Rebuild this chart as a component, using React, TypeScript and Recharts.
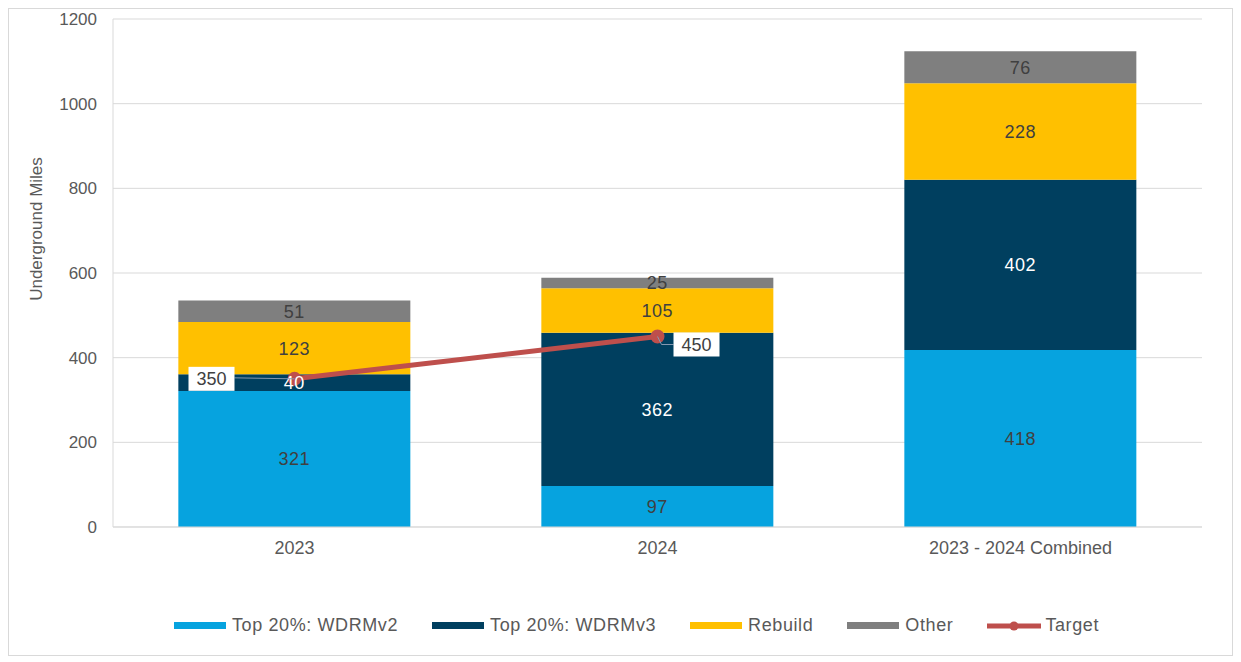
import React from 'react';
import { ComposedChart, Bar, Line, XAxis, YAxis, CartesianGrid, Legend, LabelList } from 'recharts';

const categories = ['2023', '2024', '2023 - 2024 Combined'];
const wdrmV2 = [321, 97, 418];
const wdrmV3 = [40, 362, 402];
const rebuild = [123, 105, 228];
const other = [51, 25, 76];
const target: (number | null)[] = [350, 450, null];
const yTicks = [0, 200, 400, 600, 800, 1000, 1200];

const data = categories.map((c, i) => ({
  name: c,
  v2: wdrmV2[i],
  v3: wdrmV3[i],
  rebuild: rebuild[i],
  other: other[i],
  target: target[i],
}));

const FONT = 'Liberation Sans, Arial, sans-serif';
const C_V2 = '#06A3DF';
const C_V3 = '#003F5F';
const C_RB = '#FFC000';
const C_OT = '#7F7F7F';
const C_TG = '#BE4F4C';
const TXT = '#404040';

const legendItems = [
  { label: 'Top 20%: WDRMv2', color: C_V2, line: false },
  { label: 'Top 20%: WDRMv3', color: C_V3, line: false },
  { label: 'Rebuild', color: C_RB, line: false },
  { label: 'Other', color: C_OT, line: false },
  { label: 'Target', color: C_TG, line: true },
];

const LegendContent = () => (
  <div style={{ display: 'flex', alignItems: 'center', fontFamily: FONT, fontSize: 18, color: '#595959', letterSpacing: 0.6 }}>
    {legendItems.map((it, i) => (
      <div key={i} style={{ display: 'flex', alignItems: 'center', marginRight: i < legendItems.length - 1 ? 34 : 0 }}>
        {it.line ? (
          <svg width={54} height={12} style={{ marginRight: 4 }}>
            <line x1={0} y1={6} x2={54} y2={6} stroke={it.color} strokeWidth={5} />
            <circle cx={27} cy={6} r={4.5} fill={it.color} />
          </svg>
        ) : (
          <div style={{ width: 52, height: 7, background: it.color, marginRight: 6 }} />
        )}
        <span style={{ whiteSpace: 'nowrap' }}>{it.label}</span>
      </div>
    ))}
  </div>
);

const TargetLabel = (props: any) => {
  const { x, y, value, index } = props;
  if (value == null) return null;
  const w = 46;
  const h = 24;
  if (index === 0) {
    const bx = x - 106;
    const by = y - 12;
    return (
      <g>
        <line x1={bx + w} y1={y - 1} x2={x} y2={y} stroke="#8497B0" strokeWidth={1} />
        <rect x={bx} y={by} width={w} height={h} fill="#fff" />
        <text x={bx + w / 2} y={by + h / 2} textAnchor="middle" dominantBaseline="central" fontFamily={FONT} fontSize={18} fill={TXT}>
          {value}
        </text>
      </g>
    );
  }
  const bx = x + 16;
  const by = y - 4;
  return (
    <g>
      <polyline points={`${x},${y} ${x + 4},${y + 8} ${bx},${y + 8}`} fill="none" stroke="#8497B0" strokeWidth={1} />
      <rect x={bx} y={by} width={w} height={h} fill="#fff" />
      <text x={bx + w / 2} y={by + h / 2} textAnchor="middle" dominantBaseline="central" fontFamily={FONT} fontSize={18} fill={TXT}>
        {value}
      </text>
    </g>
  );
};

const YLabel = () => (
  <text x={27} y={220} transform="rotate(-90 27 220)" textAnchor="middle" dominantBaseline="central" fontFamily={FONT} fontSize={17} fill="#595959">
    Underground Miles
  </text>
);

const labelStyle = { fontFamily: FONT, fontSize: 18, letterSpacing: 0.5 };

export default function App() {
  return (
    <div style={{ width: 1223, height: 646, border: '1px solid #d9d9d9', background: '#fff', position: 'relative' }}>
      <ComposedChart
        width={1223}
        height={646}
        data={data}
        margin={{ top: 10, right: 30, left: 0, bottom: 98 }}
        barCategoryGap="18%"
      >
        <CartesianGrid vertical={false} stroke="#d9d9d9" />
        <XAxis
          dataKey="name"
          axisLine={{ stroke: '#d9d9d9' }}
          tickLine={false}
          tickMargin={8}
          height={30}
          tick={{ fontFamily: FONT, fontSize: 18, fill: '#595959' }}
        />
        <YAxis
          width={104}
          domain={[0, 1200]}
          ticks={yTicks}
          axisLine={{ stroke: '#d9d9d9' }}
          tickLine={false}
          tickMargin={10}
          tick={{ fontFamily: FONT, fontSize: 17, fill: '#595959' }}
          label={YLabel}
        />
        <Legend
          verticalAlign="middle"
          align="center"
          content={LegendContent}
          wrapperStyle={{ left: 165, top: 606, width: 1000 }}
        />
        <Bar dataKey="v2" stackId="a" fill={C_V2} isAnimationActive={false}>
          <LabelList dataKey="v2" position="center" style={labelStyle} fill={TXT} />
        </Bar>
        <Bar dataKey="v3" stackId="a" fill={C_V3} isAnimationActive={false}>
          <LabelList dataKey="v3" position="center" style={labelStyle} fill="#ffffff" />
        </Bar>
        <Bar dataKey="rebuild" stackId="a" fill={C_RB} isAnimationActive={false}>
          <LabelList dataKey="rebuild" position="center" style={labelStyle} fill={TXT} />
        </Bar>
        <Bar dataKey="other" stackId="a" fill={C_OT} isAnimationActive={false}>
          <LabelList dataKey="other" position="center" style={labelStyle} fill={TXT} />
        </Bar>
        <Line
          dataKey="target"
          stroke={C_TG}
          strokeWidth={5}
          dot={{ r: 4.5, fill: C_TG, stroke: C_TG }}
          activeDot={false}
          connectNulls={false}
          isAnimationActive={false}
        >
          <LabelList dataKey="target" content={TargetLabel} />
        </Line>
      </ComposedChart>
    </div>
  );
}
